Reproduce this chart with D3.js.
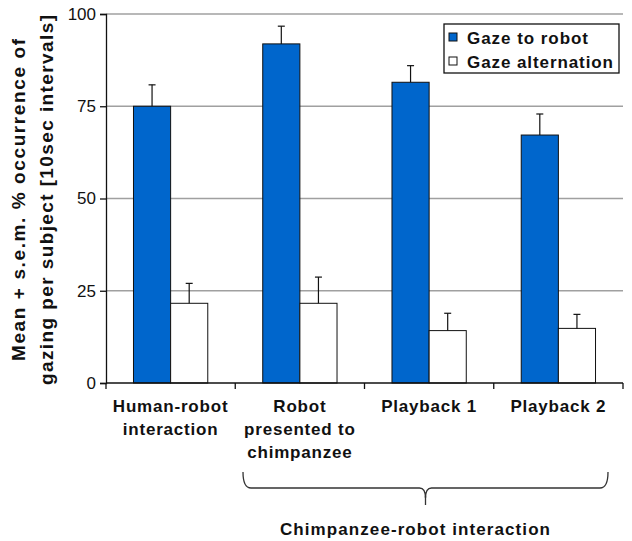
<!DOCTYPE html>
<html><head><meta charset="utf-8">
<script src="https://cdn.jsdelivr.net/npm/d3@7"></script>
<style>
body{margin:0;background:#fff;}
text{font-family:"Liberation Sans",Arial,sans-serif;fill:#111;}
</style></head>
<body><svg id="c" width="632" height="541"></svg>
<script>
const categories = [["Human-robot","interaction"],["Robot","presented to","chimpanzee"],["Playback 1"],["Playback 2"]];
const seriesNames = ["Gaze to robot","Gaze alternation"];
const gazeToRobot = [75.0, 91.9, 81.5, 67.2];
const gazeToRobotErr = [5.8, 4.8, 4.5, 5.7];
const gazeAlternation = [21.6, 21.6, 14.2, 14.8];
const gazeAlternationErr = [5.4, 7.1, 4.7, 3.8];
const yTicks = [0,25,50,75,100];
const yLabel = ["Mean + s.e.m. % occurrence of","gazing per subject [10sec intervals]"];
const groupLabel = "Chimpanzee-robot interaction";
const colors = ["#0066cc","#ffffff"];

const svg = d3.select("#c");
const L=106,R=623,T=14,B=383;
const y = d3.scaleLinear().domain([0,100]).range([B,T]);
const x = d3.scaleBand().domain(d3.range(categories.length)).range([L,R]).paddingInner(0).paddingOuter(0);
const xs = d3.scaleBand().domain([0,1]).range([0,x.bandwidth()]).paddingInner(0).paddingOuter(0.74);

// grid
svg.append("g").selectAll("line").data(yTicks.filter(d=>d>0)).join("line")
 .attr("x1",L).attr("x2",R).attr("y1",d=>y(d)).attr("y2",d=>y(d))
 .attr("stroke","#a0a0a0").attr("stroke-width",1.3);

// bars
const series=[gazeToRobot,gazeAlternation], errs=[gazeToRobotErr,gazeAlternationErr];
series.forEach((vals,s)=>{
  const g=svg.append("g");
  vals.forEach((v,i)=>{
    const bx=x(i)+xs(s), bw=xs.bandwidth();
    g.append("rect").attr("x",bx).attr("y",y(v)).attr("width",bw).attr("height",B-y(v))
     .attr("fill",colors[s]).attr("stroke","#111").attr("stroke-width",1);
    const cx=bx+bw/2, top=y(v+errs[s][i]);
    g.append("line").attr("x1",cx).attr("x2",cx).attr("y1",y(v)).attr("y2",top).attr("stroke","#111").attr("stroke-width",1.2);
    g.append("line").attr("x1",cx-3.5).attr("x2",cx+3.5).attr("y1",top).attr("y2",top).attr("stroke","#111").attr("stroke-width",1.2);
  });
});

// y axis
const ya = svg.append("g").attr("transform",`translate(${L},0)`)
 .call(d3.axisLeft(y).tickValues(yTicks).tickSize(6).tickPadding(4).tickFormat(d3.format("d")));
ya.select(".domain").attr("stroke","#111").attr("stroke-width",1.3);
ya.selectAll(".tick line").attr("stroke","#111").attr("stroke-width",1.3);
ya.selectAll(".tick text").attr("font-size",17).attr("font-family","Liberation Sans, Arial").attr("fill","#111");

// x axis
svg.append("line").attr("x1",L).attr("x2",R).attr("y1",B).attr("y2",B).attr("stroke","#111").attr("stroke-width",1.3);
svg.append("g").selectAll("line").data(d3.range(categories.length+1)).join("line")
 .attr("x1",i=>L+i*x.bandwidth()).attr("x2",i=>L+i*x.bandwidth()).attr("y1",B).attr("y2",B+6)
 .attr("stroke","#111").attr("stroke-width",1.3);

categories.forEach((lines,i)=>{
  const t=svg.append("text").attr("text-anchor","middle").attr("font-size",17).attr("font-weight","bold").attr("letter-spacing","0.8");
  lines.forEach((ln,j)=>t.append("tspan").attr("x",x(i)+x.bandwidth()/2).attr("y",412+j*23).text(ln));
});

// y label
const ylLens=[322,370];
yLabel.forEach((ln,j)=>{
  svg.append("text").attr("transform","translate(0,200) rotate(-90)").attr("text-anchor","middle")
   .attr("font-size",19).attr("font-weight","bold")
   .attr("x",0).attr("y",25+j*28).attr("textLength",ylLens[j]).attr("lengthAdjust","spacing").text(ln);
});

// brace
const bx0=243,bx1=608,bm=(bx0+bx1)/2,by0=472,by1=488;
svg.append("path").attr("fill","none").attr("stroke","#333").attr("stroke-width",1.3)
 .attr("d",`M${bx0},${by0} Q${bx0},${by1} ${bx0+8},${by1} L${bm-6},${by1} Q${bm},${by1} ${bm},${by1+10} Q${bm},${by1} ${bm+6},${by1} L${bx1-8},${by1} Q${bx1},${by1} ${bx1},${by0}`);
svg.append("path").attr("fill","none").attr("stroke","#333").attr("stroke-width",1.3)
 .attr("d",`M${bm},${by1+8} L${bm},${by1+17}`);
svg.append("text").attr("x",415).attr("y",535).attr("text-anchor","middle").attr("font-size",17).attr("font-weight","bold")
 .attr("textLength",270).attr("lengthAdjust","spacing").text(groupLabel);

// legend
const lg=svg.append("g");
lg.append("rect").attr("x",444).attr("y",24).attr("width",175).attr("height",49).attr("fill","#fff").attr("stroke","#111").attr("stroke-width",1.3);
const legLens=[121,146];
seriesNames.forEach((n,i)=>{
  lg.append("rect").attr("x",449).attr("y",33+i*24).attr("width",8).attr("height",8).attr("fill",colors[i]).attr("stroke","#111").attr("stroke-width",1);
  lg.append("text").attr("x",467).attr("y",44+i*24).attr("font-size",17).attr("font-weight","bold")
   .attr("textLength",legLens[i]).attr("lengthAdjust","spacing").text(n);
});
</script></body></html>
